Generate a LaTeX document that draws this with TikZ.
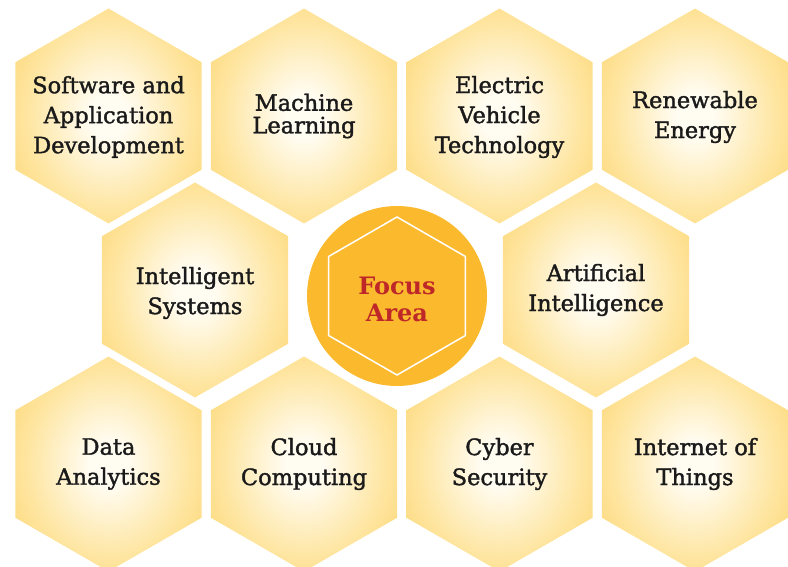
\documentclass[tikz,border=0pt]{standalone}
\usepackage{fontspec}
\usetikzlibrary{shapes.geometric}
\newfontfamily\hexfont[FakeBold=1.6]{DejaVu Serif}
\newfontfamily\focfont{DejaVu Serif Bold}
\definecolor{hexin}{HTML}{FFFCF2}
\definecolor{hexmid}{HTML}{FEE5A0}
\definecolor{hexout}{HTML}{FCD062}
\definecolor{focusfill}{HTML}{FBB92E}
\definecolor{focusred}{HTML}{BE2828}
\definecolor{txt}{HTML}{1A1A1A}
\pgfdeclareradialshading{hexshade}{\pgfpoint{0bp}{0bp}}{color(0bp)=(hexin); color(5bp)=(hexin); color(22bp)=(hexmid); color(38bp)=(hexout); color(50bp)=(hexout)}
\tikzset{
  hexa/.style={regular polygon, regular polygon sides=6, shape border rotate=90,
    minimum size=215pt, inner sep=0pt, outer sep=0pt, draw=none, shading=hexshade},
  lbl/.style={align=center, text=txt, inner sep=0pt, font={\hexfont\fontsize{22.5}{30}\selectfont}},
  lbltight/.style={lbl, font={\hexfont\fontsize{22.5}{22.5}\selectfont}},
  focuscircle/.style={circle, fill=focusfill, minimum size=180pt, inner sep=0pt, outer sep=0pt},
  focushex/.style={regular polygon, regular polygon sides=6, shape border rotate=90,
    minimum size=158pt, inner sep=0pt, draw=white, line width=1.5pt},
  focuslbl/.style={align=center, text=focusred, inner sep=0pt, font={\focfont\fontsize{24}{27}\selectfont}}
}
\begin{document}
\begin{tikzpicture}[x=1pt,y=-1pt]
\useasboundingbox (0,0) rectangle (788,567);
% row 1
\node[hexa] (h1) at (108.5,116) {};
\node[hexa] (h2) at (304,116) {};
\node[hexa] (h3) at (499.5,116) {};
\node[hexa] (h4) at (695,116) {};
% row 2
\node[hexa] (h5) at (195,290) {};
\node[hexa] (h6) at (596,290) {};
% row 3
\node[hexa] (h7) at (108.5,464) {};
\node[hexa] (h8) at (304,464) {};
\node[hexa] (h9) at (499.5,464) {};
\node[hexa] (h10) at (695,464) {};
% focus
\node[focuscircle] (fc) at (397,296) {};
\node[focushex] (fh) at (fc) {};
\node[focuslbl] (ft) at (397,299) {Focus\\Area};
% labels
\node[lbl] (t1) at (108.5,117) {Software and\\Application\\Development};
\node[lbltight] (t2) at (304,116) {Machine\\Learning};
\node[lbl] (t3) at (499.5,117) {Electric\\Vehicle\\Technology};
\node[lbl] (t4) at (695,117) {Renewable\\Energy};
\node[lbl] (t5) at (195,293) {Intelligent\\Systems};
\node[lbl] (t6) at (596,290) {Artificial\\Intelligence};
\node[lbl] (t7) at (108.5,464) {Data\\Analytics};
\node[lbl] (t8) at (304,464) {Cloud\\Computing};
\node[lbl] (t9) at (499.5,464) {Cyber\\Security};
\node[lbl] (t10) at (695,464) {Internet of\\Things};
\end{tikzpicture}
\end{document}
